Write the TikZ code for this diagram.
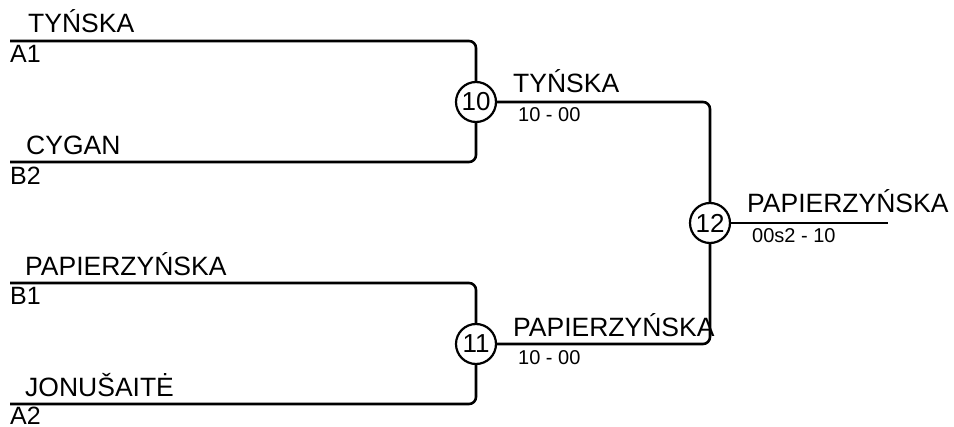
\documentclass[tikz,border=0pt]{standalone}
\usepackage{fontspec}
\setmainfont{Liberation Sans}
\usetikzlibrary{positioning}
\tikzset{
  link/.style={line width=2.6pt, rounded corners=7pt},
  game/.style={circle, draw, line width=2.2pt, fill=white, minimum size=40pt, inner sep=0pt, font=\fontsize{26}{30}\selectfont},
  pname/.style={anchor=base west, inner sep=0pt, font=\fontsize{26.5}{31}\selectfont},
  seed/.style={anchor=base west, inner sep=0pt, font=\fontsize{25}{30}\selectfont},
  score/.style={anchor=base west, inner sep=0pt, font=\fontsize{20}{24}\selectfont},
}

\begin{document}
\begin{tikzpicture}[x=1pt, y=-1pt]
\useasboundingbox (0,0) rectangle (954,427);
% matches
\node[game] (g10) at (476,102) {10};
\node[game] (g11) at (476,344) {11};
\node[game] (g12) at (710,223) {12};
\coordinate (a1) at (10,41);
\coordinate (b2) at (10,162);
\coordinate (b1) at (10,283);
\coordinate (a2) at (10,404);
\coordinate (fin) at (888,223);
% bracket lines
\draw[link] (a1) -| (g10);
\draw[link] (b2) -| (g10);
\draw[link] (b1) -| (g11);
\draw[link] (a2) -| (g11);
\draw[link] (g10) -| (g12);
\draw[link] (g11) -| (g12);
\draw[link] (g12) -- (fin);
% first round
\node[pname] (n1) at (28,33) {TYŃSKA};
\node[seed] (s1) at (10,63) {A1};
\node[pname] (n2) at (26,155) {CYGAN};
\node[seed] (s2) at (10,185) {B2};
\node[pname] (n3) at (25,276) {PAPIERZYŃSKA};
\node[seed] (s3) at (10,305) {B1};
\node[pname] (n4) at (25,397) {JONUŠAITĖ};
\node[seed] (s4) at (10,424.5) {A2};
% second round
\node[pname] (w10) at (513,93) {TYŃSKA};
\node[score] (r10) at (518,122) {10 - 00};
\node[pname] (w11) at (513,337) {PAPIERZYŃSKA};
\node[score] (r11) at (518,365) {10 - 00};
% final
\node[pname] (w12) at (747,213) {PAPIERZYŃSKA};
\node[score] (r12) at (752,243) {00s2 - 10};
\end{tikzpicture}
\end{document}
